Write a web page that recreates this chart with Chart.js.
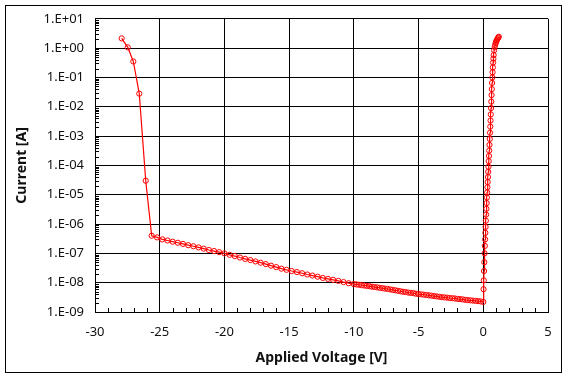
<!DOCTYPE html>
<html>
<head>
<meta charset="utf-8">
<script src="https://cdn.jsdelivr.net/npm/chart.js@4/dist/chart.umd.min.js"></script>
<style>
  html, body { margin: 0; padding: 0; background: #fff; }
  #wrap { width: 568px; height: 379px; }
</style>
</head>
<body>
<div id="wrap"><canvas id="myChart" width="568" height="379"></canvas></div>
<script>
// Breakdown region (steep part on the left)
const breakdownV = [-27.94, -27.47, -27.04, -26.58, -26.08, -25.62];
const breakdownI = [2.15, 1.06, 0.35, 0.028, 3.0e-5, 4.0e-7];

// Reverse leakage tail
const leakV = [
    -25.2, -24.8, -24.4, -24.0, -23.6, -23.2, -22.8, -22.4, -22.0, -21.6,
    -21.2, -20.8, -20.4, -20.0, -19.6, -19.2, -18.8, -18.4, -18.0, -17.6,
    -17.2, -16.8, -16.4, -16.0, -15.6, -15.2, -14.8, -14.4, -14.0, -13.6,
    -13.2, -12.8, -12.4, -12.0, -11.6, -11.2, -10.8, -10.4, -10.0,
    -9.8, -9.6, -9.4, -9.2, -9.0, -8.8, -8.6, -8.4, -8.2, -8.0,
    -7.8, -7.6, -7.4, -7.2, -7.0, -6.8, -6.6, -6.4, -6.2, -6.0,
    -5.8, -5.6, -5.4, -5.2, -5.0, -4.8, -4.6, -4.4, -4.2, -4.0,
    -3.8, -3.6, -3.4, -3.2, -3.0, -2.8, -2.6, -2.4, -2.2, -2.0,
    -1.8, -1.6, -1.4, -1.2, -1.0, -0.8, -0.6, -0.4, -0.2, 0.0
];
const leakI = [
    3.5e-7, 3.0e-7, 2.75e-7, 2.5e-7, 2.3e-7, 2.1e-7, 1.9e-7, 1.75e-7, 1.6e-7, 1.45e-7,
    1.3e-7, 1.2e-7, 1.1e-7, 1.0e-7, 8.9e-8, 8.1e-8, 7.2e-8, 6.5e-8, 5.9e-8, 5.3e-8,
    4.8e-8, 4.3e-8, 3.8e-8, 3.4e-8, 3.0e-8, 2.75e-8, 2.5e-8, 2.3e-8, 2.1e-8, 1.9e-8,
    1.75e-8, 1.6e-8, 1.45e-8, 1.35e-8, 1.25e-8, 1.15e-8, 1.05e-8, 9.6e-9, 8.9e-9,
    8.7e-9, 8.5e-9, 8.2e-9, 8.0e-9, 7.8e-9, 7.6e-9, 7.3e-9, 7.1e-9, 6.9e-9, 6.7e-9,
    6.5e-9, 6.3e-9, 6.1e-9, 5.9e-9, 5.7e-9, 5.5e-9, 5.3e-9, 5.1e-9, 4.9e-9, 4.8e-9,
    4.6e-9, 4.5e-9, 4.4e-9, 4.2e-9, 4.1e-9, 4.0e-9, 3.9e-9, 3.8e-9, 3.7e-9, 3.6e-9,
    3.5e-9, 3.4e-9, 3.3e-9, 3.2e-9, 3.15e-9, 3.1e-9, 3.0e-9, 2.95e-9, 2.9e-9, 2.8e-9,
    2.75e-9, 2.7e-9, 2.6e-9, 2.55e-9, 2.5e-9, 2.45e-9, 2.4e-9, 2.35e-9, 2.3e-9, 2.2e-9
];

// Forward branch
const forwardV = [
    0.02, 0.04, 0.06, 0.08, 0.10, 0.12, 0.14, 0.16, 0.18, 0.20,
    0.22, 0.24, 0.26, 0.28, 0.30, 0.32, 0.34, 0.36, 0.38, 0.40,
    0.42, 0.44, 0.46, 0.48, 0.50, 0.52, 0.54, 0.56, 0.58, 0.60,
    0.62, 0.64, 0.66, 0.68, 0.70, 0.72, 0.74, 0.76, 0.78, 0.80,
    0.84, 0.88, 0.92, 0.96, 1.00, 1.04, 1.08, 1.12, 1.16, 1.20
];
const forwardI = [
    6e-9, 1.2e-8, 2.5e-8, 5e-8, 1e-7, 1.8e-7, 3e-7, 5e-7, 8e-7, 1.3e-6,
    2.1e-6, 3.3e-6, 5.2e-6, 8e-6, 1.2e-5, 1.8e-5, 2.7e-5, 4e-5, 6e-5, 9e-5,
    1.4e-4, 2.1e-4, 3.2e-4, 5e-4, 8e-4, 1.3e-3, 2.1e-3, 3.4e-3, 5.5e-3, 9e-3,
    1.5e-2, 2.5e-2, 4e-2, 6.5e-2, 0.1, 0.15, 0.22, 0.32, 0.44, 0.58,
    0.85, 1.1, 1.3, 1.5, 1.7, 1.85, 2.0, 2.15, 2.3, 2.45
];

// Axis ticks
const xTicks = [-30, -25, -20, -15, -10, -5, 0, 5];
const yExponents = [-9, -8, -7, -6, -5, -4, -3, -2, -1, 0, 1];

const allV = breakdownV.concat(leakV, forwardV);
const allI = breakdownI.concat(leakI, forwardI);
const points = allV.map((v, i) => ({ x: v, y: allI[i] }));

const fontFamily = '"Noto Sans", "DejaVu Sans", sans-serif';

function expLabel(value) {
    const e = Math.round(Math.log10(value));
    const s = e < 0 ? '-' : '+';
    const a = Math.abs(e);
    return '1.E' + s + (a < 10 ? '0' + a : a);
}

// white background, outer frame and the small inside ticks
const decorations = {
    id: 'decorations',
    beforeDraw(chart) {
        const c = chart.ctx;
        c.save();
        c.fillStyle = '#fff';
        c.fillRect(0, 0, chart.width, chart.height);
        c.restore();
    },
    afterDraw(chart) {
        const c = chart.ctx;
        const xs = chart.scales.x;
        const ys = chart.scales.y;
        const area = chart.chartArea;
        c.save();
        c.strokeStyle = '#000';
        c.lineWidth = 1;
        c.beginPath();
        // y minor ticks
        for (let e = -9; e < 1; e++) {
            for (let k = 2; k <= 9; k++) {
                const py = Math.round(ys.getPixelForValue(k * Math.pow(10, e))) + 0.5;
                c.moveTo(area.left, py);
                c.lineTo(area.left + 4, py);
            }
        }
        // x minor ticks
        for (let v = -29; v < 5; v++) {
            if (v % 5 === 0) continue;
            const px = Math.round(xs.getPixelForValue(v)) + 0.5;
            c.moveTo(px, area.bottom);
            c.lineTo(px, area.bottom - 4);
        }
        c.stroke();
        c.strokeRect(5.5, 5.5, 556, 367);
        c.restore();
    }
};

const cox = document.getElementById('myChart').getContext('2d');

const myChart = new Chart(cox, {
    type: 'scatter',
    data: {
        datasets: [{
            label: 'Current',
            data: points,
            showLine: true,
            borderColor: '#ff0000',
            borderWidth: 1.2,
            pointRadius: 2.6,
            pointBorderWidth: 1,
            pointBorderColor: '#ff0000',
            pointBackgroundColor: 'rgba(0,0,0,0)',
            tension: 0
        }]
    },
    options: {
        responsive: false,
        animation: false,
        layout: {
            padding: { left: 0, right: 20, top: 16, bottom: 0 }
        },
        plugins: {
            legend: { display: false },
            tooltip: { enabled: false }
        },
        scales: {
            x: {
                type: 'linear',
                min: -30,
                max: 5,
                afterBuildTicks: s => { s.ticks = xTicks.map(v => ({ value: v })); },
                afterFit: s => { s.height = 67; },
                grid: { color: '#000', lineWidth: 1, drawTicks: false },
                border: { color: '#000', width: 1 },
                ticks: {
                    padding: 12,
                    color: '#111',
                    font: { family: fontFamily, size: 13 }
                },
                title: {
                    display: true,
                    text: 'Applied Voltage [V]',
                    color: '#111',
                    font: { family: fontFamily, size: 14, weight: 'bold' },
                    padding: { top: 0, bottom: 13 }
                }
            },
            y: {
                type: 'logarithmic',
                min: 1e-9,
                max: 10,
                afterBuildTicks: s => { s.ticks = yExponents.map(e => ({ value: Math.pow(10, e) })); },
                afterFit: s => { s.width = 95; },
                grid: { color: '#000', lineWidth: 1, drawTicks: false },
                border: { color: '#000', width: 1 },
                ticks: {
                    padding: 11,
                    color: '#111',
                    font: { family: fontFamily, size: 13 },
                    callback: v => expLabel(v)
                },
                title: {
                    display: true,
                    text: 'Current [A]',
                    color: '#111',
                    font: { family: fontFamily, size: 14, weight: 'bold' },
                    padding: { top: 14, bottom: 0 }
                }
            }
        }
    },
    plugins: [decorations]
});
</script>
</body>
</html>
